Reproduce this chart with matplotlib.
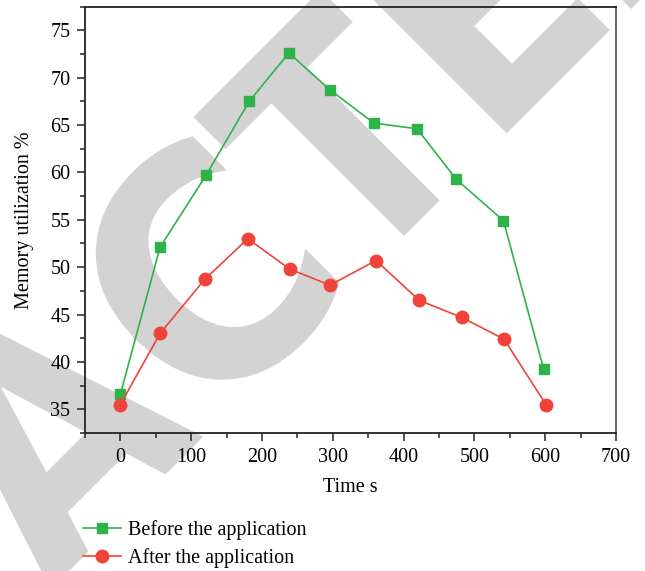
import matplotlib.pyplot as plt
from matplotlib.ticker import MultipleLocator
from matplotlib.textpath import TextPath
from matplotlib.font_manager import FontProperties
from matplotlib.patches import PathPatch
from matplotlib.transforms import Affine2D, IdentityTransform

# data
t_before = [0, 56, 121, 182, 238, 296, 358, 419, 474, 541, 598]
mem_before = [36.6, 52.1, 59.7, 67.5, 72.6, 68.7, 65.2, 64.6, 59.3, 54.9, 39.2]
t_after = [0, 56, 119, 180, 239, 296, 361, 422, 482, 542, 601]
mem_after = [35.5, 43.0, 48.7, 53.0, 49.8, 48.1, 50.7, 46.5, 44.7, 42.4, 35.5]

W, H = 645, 571
plt.rcParams['font.family'] = ['Liberation Serif', 'DejaVu Serif']

fig = plt.figure(figsize=(W / 100, H / 100), dpi=100)
ax = fig.add_axes([85 / W, 1 - 433 / H, (616 - 85) / W, (433 - 6.5) / H])
ax.patch.set_alpha(0)

# gray "retracted" watermark behind the plot, drawn in pixel space
fp = FontProperties(family='DejaVu Sans', weight='bold')
cap = TextPath((0, 0), 'T', size=1, prop=fp).get_extents().height
sy = 233 / cap
letters = [('A', -381, -165), ('C', -144, 40), ('T', 54, 234),
           ('E', 264, 410), ('D', 440, 610)]
for ch, u0, u1 in letters:
    p = TextPath((0, 0), ch, size=1, prop=fp)
    ext = p.get_extents()
    tr = (Affine2D().translate(-ext.x0, 0).scale((u1 - u0) / ext.width, sy)
          .translate(u0, 0).rotate_deg(45).translate(320, H - 320))
    fig.add_artist(PathPatch(tr.transform_path(p), transform=IdentityTransform(),
                             facecolor='#d3d3d3', edgecolor='none', zorder=-5))

green = '#2db34a'
red = '#f0433a'
ax.plot(t_before, mem_before, color=green, lw=1.2, marker='s', ms=7.5,
        label='Before the application', zorder=3)
ax.plot(t_after, mem_after, color=red, lw=1.2, marker='o', ms=9,
        label='After the application', zorder=3)

ax.set_xlim(-50, 700)
ax.set_ylim(32.5, 77.5)
ax.xaxis.set_major_locator(MultipleLocator(100))
ax.xaxis.set_minor_locator(MultipleLocator(50))
ax.yaxis.set_major_locator(MultipleLocator(5))
ax.yaxis.set_minor_locator(MultipleLocator(2.5))
ax.tick_params(which='major', length=5.5, width=1.1, labelsize=14.5,
               color='#222222', pad=5)
ax.tick_params(which='minor', length=3.5, width=1.1, color='#222222')
for s in ax.spines.values():
    s.set_linewidth(1.3)
    s.set_color('#222222')
ax.spines['right'].set_color('#555555')

ax.set_xlabel('Time s', fontsize=14.5, labelpad=8)
ax.set_ylabel('Memory utilization %', fontsize=14.5, labelpad=12)

fig.legend(loc='upper left', bbox_to_anchor=(69 / W, 1 - 506 / H),
           frameon=False, fontsize=14.5, handlelength=1.9, handletextpad=0.35,
           labelspacing=0.4, borderaxespad=0.3)

fig.savefig('out.png', dpi=100)
